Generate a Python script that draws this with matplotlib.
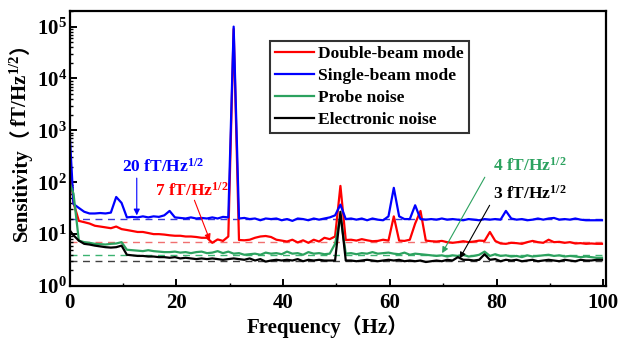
import numpy as np
import matplotlib
matplotlib.use("Agg")
import matplotlib.pyplot as plt
from matplotlib.ticker import MultipleLocator, LogLocator, NullFormatter

plt.rcParams['font.family'] = ['Liberation Serif', 'Noto Sans CJK SC']
plt.rcParams['font.weight'] = 'bold'
plt.rcParams['mathtext.default'] = 'regular'

# ---------------- data ----------------
freq = np.concatenate([[0.0], np.arange(0.75, 100.0, 1.0)])

double_beam = [300,
    40, 18, 17, 16, 14.5, 14, 13.5, 13, 14, 12.5,
    12, 11.5, 11, 11, 10.5, 10, 10, 9.8, 9.5, 9.3,
    9.3, 9.0, 9.0, 8.8, 8.5, 8.5, 6.8, 7.9, 7.4, 9,
    9e4, 7.7, 7.6, 7.8, 8.5, 9, 9.2, 8.8, 7.8, 7.5,
    7.2, 7.8, 6.9, 7.6, 6.8, 7.8, 7.2, 8.5, 8, 9,
    85, 7.7, 7.8, 7.5, 8, 7.6, 7.3, 7.4, 7.8, 7.5,
    22, 7.5, 7.4, 7.8, 16, 28, 7.5, 7.3, 7.2, 7.4,
    7.0, 6.8, 7.0, 7.3, 7.0, 7.2, 7.5, 7.4, 11, 7.4,
    6.6, 6.5, 6.8, 6.7, 6.5, 7.0, 7.4, 7.0, 6.8, 7.8,
    7.0, 7.1, 6.8, 7.0, 6.6, 6.7, 6.5, 6.6, 6.5, 6.5]

single_beam = [1000,
    38, 32, 27, 25, 25, 25.5, 25, 26, 52, 40,
    21, 21.5, 21, 22, 21, 22, 21.5, 23, 28, 21,
    20.5, 20, 21, 20, 20.5, 20, 21, 20, 21.5, 21,
    1e5, 20, 20.5, 19.5, 20, 18.5, 20, 19.5, 20, 18.5,
    19.5, 18, 20, 19.5, 18.5, 20, 19, 20, 21, 23,
    37, 19.5, 20, 19, 20, 18.5, 20, 19, 18.5, 22,
    78, 22, 19.5, 19.5, 36, 19.5, 19, 19.5, 19, 20,
    19, 19.5, 19, 18.5, 19.5, 19, 18.5, 19.5, 19, 19.5,
    19, 28, 20, 19, 19.5, 18.5, 19, 20, 19, 20,
    20.5, 19, 19.5, 19, 20, 19, 18.5, 18.5, 18.5, 18.5]

probe_noise = [100,
    60, 7.5, 7.0, 6.8, 6.5, 6.4, 6.3, 6.5, 6.6, 7.0,
    5.0, 4.9, 4.8, 4.7, 4.9, 4.7, 4.6, 4.5, 4.5, 4.6,
    4.4, 4.5, 4.3, 4.5, 4.6, 4.3, 4.4, 4.7, 4.3, 4.6,
    4.2, 4.3, 4.0, 4.1, 4.2, 4.0, 4.4, 4.2, 4.3, 4.1,
    4.6, 4.2, 4.3, 4.0, 4.5, 4.2, 4.3, 4.1, 4.2, 6.5,
    22, 4.2, 4.3, 4.1, 4.3, 4.2, 4.5, 4.2, 4.3, 4.4,
    4.2, 4.1, 4.4, 4.0, 4.2, 4.1, 4.0, 3.9, 3.8, 3.9,
    3.7, 3.9, 3.8, 4.0, 3.7, 3.8, 4.0, 4.6, 3.8, 4.1,
    3.8, 3.9, 3.7, 3.8, 3.6, 3.9, 3.7, 3.8, 3.9, 4.0,
    3.8, 3.9, 3.7, 3.8, 3.7, 3.6, 3.7, 3.6, 3.5, 3.5]

electronic_noise = [12,
    9.5, 7.5, 6.5, 6.3, 6.0, 5.8, 5.6, 5.5, 5.6, 6.0,
    4.0, 3.9, 3.8, 3.8, 3.7, 3.7, 3.6, 3.6, 3.5, 3.6,
    3.4, 3.5, 3.4, 3.3, 3.4, 3.3, 3.4, 3.3, 3.2, 3.3,
    3.4, 3.3, 3.2, 3.4, 3.1, 3.3, 2.95, 3.1, 3.2, 3.1,
    3.2, 3.1, 3.3, 3.0, 3.2, 3.1, 3.2, 3.1, 3.1, 3.1,
    27, 3.1, 3.1, 3.0, 3.1, 3.2, 3.1, 3.0, 3.1, 3.2,
    3.1, 3.2, 3.0, 3.1, 3.0, 3.1, 2.9, 3.0, 3.1, 3.0,
    3.2, 3.1, 3.6, 3.2, 3.2, 3.1, 3.2, 4.1, 3.2, 3.3,
    3.0, 3.2, 3.1, 3.2, 3.0, 3.1, 3.2, 3.0, 3.1, 3.2,
    3.1, 3.0, 3.2, 3.1, 3.0, 3.2, 3.1, 3.1, 3.2, 3.2]

series_labels = ['Double-beam mode', 'Single-beam mode', 'Probe noise', 'Electronic noise']
series_colors = ['#ff0000', '#0000ff', '#2ca25f', '#000000']
ref_levels = [7, 20, 4, 3]
ref_colors = ['#f07070', '#3a3ad8', '#3cb371', '#404040']
ref_texts = ['7 fT/Hz$^{\\mathdefault{1/2}}$', '20 fT/Hz$^{\\mathdefault{1/2}}$',
             '4 fT/Hz$^{\\mathdefault{1/2}}$', '3 fT/Hz$^{\\mathdefault{1/2}}$']
# text positions (freq, value), arrow tail, arrow tip
text_pos = [(16.1, 70), (9.8, 195), (79.3, 212), (79.3, 61)]
arrow_tail = [(23.4, 45), (12.6, 120), (77.8, 125), (78.7, 36)]
arrow_tip = [(26.3, 7.6), (12.6, 23), (69.8, 4.3), (73.1, 3.4)]

# ---------------- figure ----------------
fig = plt.figure(figsize=(6.22, 3.38), dpi=100)
ax = fig.add_axes([69.5/622, 1-286/338, (606-69.5)/622, (286-11)/338])

series = [double_beam, single_beam, probe_noise, electronic_noise]
for lvl, c in zip(ref_levels, ref_colors):
    ax.axhline(lvl, color=c, lw=1.0, ls=(0, (5, 4)), zorder=1)
lines = []
for s, lab, c in zip(series, series_labels, series_colors):
    ln, = ax.plot(freq, s, color=c, lw=1.6, label=lab, zorder=2)
    lines.append(ln)

ax.set_yscale('log')
ax.set_xlim(0, 100.5)
ax.set_ylim(1, 2e5)
ax.xaxis.set_major_locator(MultipleLocator(20))
ax.xaxis.set_minor_locator(MultipleLocator(10))
ax.yaxis.set_major_locator(LogLocator(base=10, numticks=10))
ax.yaxis.set_minor_locator(LogLocator(base=10, subs=np.arange(2, 10), numticks=20))
ax.yaxis.set_minor_formatter(NullFormatter())
ax.tick_params(which='major', direction='in', length=5, width=1.4, labelsize=15)
ax.tick_params(which='minor', direction='in', length=2.5, width=1.0)
ax.tick_params(axis='x', which='major', pad=5)
ax.tick_params(axis='y', which='major', pad=2)
ax.tick_params(top=False, right=False, which='both')
for sp in ax.spines.values():
    sp.set_linewidth(1.6)

for txt, tp, ta, tip, c in zip(ref_texts, text_pos, arrow_tail, arrow_tip, series_colors):
    ax.text(tp[0], tp[1], txt, color=c, fontsize=12.5, fontweight='bold',
            ha='left', va='center')
    ax.annotate('', xy=tip, xytext=ta,
                arrowprops=dict(arrowstyle='-|>', color=c, lw=0.8,
                                mutation_scale=9, shrinkA=0, shrinkB=0))

leg = ax.legend(handles=lines, loc='upper left', bbox_to_anchor=(0.374, 0.891),
                borderaxespad=0, fontsize=12.6, frameon=True, fancybox=False,
                edgecolor='black', handlelength=2.2, handletextpad=0.25,
                labelspacing=0.32, borderpad=0.3)
leg.get_frame().set_linewidth(1.5)
for t in leg.get_texts():
    t.set_fontweight('bold')

# axis labels
fig.text(327.5/622, 1-333/338, 'Frequency（Hz）', fontsize=15, fontweight='bold',
         ha='center', va='baseline')

x0 = 27/622
t1 = fig.text(x0, 1-241/338, 'Sensitivity（', fontsize=15, fontweight='bold',
              rotation=90, rotation_mode='anchor', ha='left', va='baseline')
t2 = ax.annotate('fT/Hz$^{\\mathdefault{1/2}}$', xy=(x0, 1.0),
                 xycoords=('figure fraction', t1), fontsize=15, fontweight='bold',
                 rotation=90, rotation_mode='anchor', ha='left', va='baseline',
                 annotation_clip=False)
t3 = ax.annotate('）', xy=(x0, 1.0), xycoords=('figure fraction', t2),
                 fontsize=15, fontweight='bold', rotation=90, rotation_mode='anchor',
                 ha='left', va='baseline', annotation_clip=False)

fig.savefig('out.png', dpi=100)
